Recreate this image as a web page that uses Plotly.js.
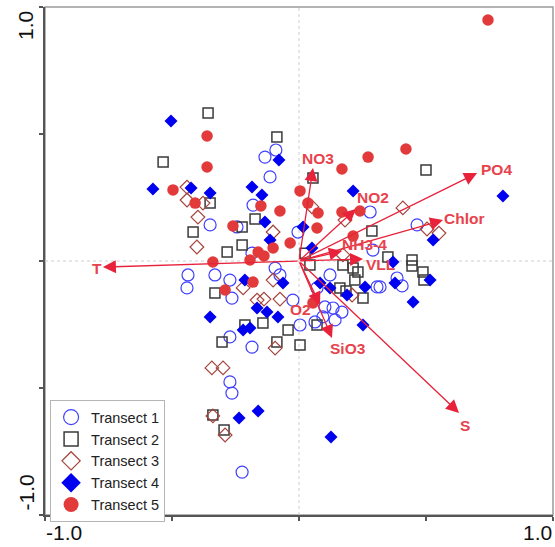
<!DOCTYPE html>
<html><head><meta charset="utf-8">
<script src="https://cdn.plot.ly/plotly-3.0.1.min.js"></script>
<style>html,body{margin:0;padding:0;background:#fff}#chart{width:555px;height:547px}</style>
</head><body><div id="chart"></div>
<script>
// ---- data ----
const seriesNames = ['Transect 1','Transect 2','Transect 3','Transect 4','Transect 5'];
const t1X = [-0.114,-0.091,-0.134,-0.181,-0.244,-0.350,-0.004,0.280,-0.185,0.291,-0.094,-0.331,-0.272,-0.075,0.122,0.071,0.307,-0.264,-0.024,-0.272,-0.185,0.004,0.063,0.102,0.134,0.169,0.142,0.094,0.465,0.386,0.406,0.319,-0.437,-0.441,-0.272,-0.264,-0.224];
const t1Y = [0.331,0.437,0.409,0.220,0.134,0.142,0.114,0.193,0.031,0.043,-0.028,-0.055,-0.075,-0.055,-0.055,-0.106,-0.102,-0.146,-0.154,-0.299,-0.339,-0.252,-0.240,-0.181,-0.185,-0.201,-0.232,-0.220,0.142,-0.067,-0.098,-0.102,-0.055,-0.106,-0.476,-0.520,-0.831];
const t2X = [-0.358,-0.535,-0.087,0.055,0.500,-0.350,-0.417,-0.224,-0.173,0.287,-0.224,-0.283,0.024,0.043,0.173,0.213,0.232,0.220,0.161,0.185,0.252,-0.331,-0.142,-0.213,-0.303,-0.043,-0.087,0.004,0.071,0.350,0.445,0.445,0.488,0.492,-0.339,-0.295];
const t2Y = [0.583,0.390,0.488,0.327,0.358,0.228,0.114,0.134,0.165,0.118,0.063,0.035,0.031,-0.016,-0.016,-0.028,-0.043,-0.075,-0.106,-0.118,-0.146,-0.126,-0.244,-0.252,-0.319,-0.272,-0.319,-0.331,-0.252,0.016,0.004,-0.020,-0.043,-0.075,-0.606,-0.665];
const t3X = [-0.441,-0.441,-0.398,-0.402,-0.378,0.051,0.181,-0.102,0.173,-0.102,-0.220,-0.165,-0.138,-0.075,0.209,-0.094,0.409,0.504,0.551,-0.343,-0.299,-0.339,-0.291];
const t3Y = [0.291,0.240,0.173,0.055,0.228,0.213,0.161,0.114,0.024,-0.075,-0.106,-0.154,-0.150,-0.150,-0.134,-0.343,0.209,0.126,0.110,-0.421,-0.421,-0.610,-0.685];
const t4X = [-0.504,-0.575,-0.425,-0.079,-0.350,-0.185,-0.146,0.213,0.803,-0.134,0.016,-0.114,0.051,0.370,-0.213,-0.063,0.083,0.122,0.260,0.189,-0.165,-0.126,-0.083,-0.350,-0.220,-0.193,0.252,0.528,0.378,0.516,0.449,-0.236,-0.161,0.126];
const t4Y = [0.551,0.283,0.287,0.398,0.268,0.291,0.260,0.276,0.256,0.154,0.134,0.083,0.051,-0.004,-0.075,-0.087,-0.087,-0.106,-0.102,-0.134,-0.185,-0.201,-0.220,-0.220,-0.272,-0.264,-0.252,0.083,-0.087,-0.075,-0.161,-0.618,-0.591,-0.693];
const t5X = [0.744,-0.362,-0.362,-0.496,-0.409,0.004,0.169,0.272,0.421,0.035,-0.150,-0.075,0.075,0.169,0.240,-0.260,0.071,0.213,-0.035,-0.102,-0.161,-0.138,-0.339,-0.193,-0.291,-0.181,0.055];
const t5Y = [0.949,0.492,0.370,0.280,0.228,0.276,0.362,0.409,0.441,0.228,0.217,0.197,0.189,0.193,0.197,0.138,0.130,0.098,0.071,0.051,0.035,0.020,-0.004,0.004,-0.114,-0.083,-0.165];

const envNames = ['T','PO4','Chlor','NO3','NO2','NH3-4','VLL','O2','SiO3','S'];
const envX = [-0.772,0.701,0.567,0.055,0.224,0.169,0.252,0.083,0.130,0.630];
const envY = [-0.024,0.346,0.161,0.366,0.205,0.039,0.008,-0.173,-0.303,-0.598];

const axisTickVals = [-1, 1];
const axisTickText = ['-1.0', '1.0'];

// ---- styling ----
const FONT = 'Liberation Sans, Arial, sans-serif';
const RED = '#e8223a';
const LABEL_RED = '#e8424c';
const styles = [
  {symbol:'circle-open', size:12, color:'#4040ff', line:{color:'#4040ff', width:1.2}},
  {symbol:'square-open', size:10, color:'#3a3a3a', line:{color:'#3a3a3a', width:1.5}},
  {symbol:'diamond-open', size:10.5, color:'#a4443e', line:{color:'#a4443e', width:1.2}},
  {symbol:'diamond', size:10, color:'#0000f0'},
  {symbol:'circle', size:11.5, color:'#e23a3a'}
];
const legendSizes = [15, 14, 14, 15, 15];
// label offsets in pixels from arrow tip (dx right, dy down)
const labelOffsets = [[-6,1],[19,-4],[21,-2],[5,-10],[17,-11],[23,-7],[17,6],[-20,5],[16,11],[6,13]];

const xs = [t1X,t2X,t3X,t4X,t5X];
const ys = [t1Y,t2Y,t3Y,t4Y,t5Y];
const traces = seriesNames.map((n,i)=>({
  type:'scatter', mode:'markers', name:n, x:xs[i], y:ys[i],
  marker:styles[i], hoverinfo:'skip', showlegend:false
}));
// legend entries (larger glyphs, as in the reference key)
seriesNames.forEach((n,i)=>{
  traces.push({type:'scatter', mode:'markers', name:n, x:[null], y:[null],
    marker:Object.assign({}, styles[i], {size:legendSizes[i]}), showlegend:true, hoverinfo:'skip'});
});

const annotations = [];
envNames.forEach((n,i)=>{
  annotations.push({x:envX[i], y:envY[i], ax:0, ay:0, xref:'x', yref:'y', axref:'x', ayref:'y',
    showarrow:true, arrowhead:2, arrowsize:2, arrowwidth:1.3, arrowcolor:RED, standoff:0, text:''});
});
envNames.forEach((n,i)=>{
  annotations.push({x:envX[i], y:envY[i], xref:'x', yref:'y', text:n, showarrow:false,
    xshift:labelOffsets[i][0], yshift:-labelOffsets[i][1], xanchor:'center', yanchor:'middle',
    font:{family:FONT, size:15.5, color:LABEL_RED, weight:'bold'}});
});
// axis end labels (inset toward the plot like the reference)
annotations.push({x:axisTickVals[0], y:0, xref:'x', yref:'paper', yanchor:'top', xanchor:'left', yshift:-4, xshift:-1,
  text:axisTickText[0], showarrow:false, font:{family:FONT, size:21, color:'#111'}});
annotations.push({x:axisTickVals[1], y:0, xref:'x', yref:'paper', yanchor:'top', xanchor:'right', yshift:-4, xshift:1,
  text:axisTickText[1], showarrow:false, font:{family:FONT, size:21, color:'#111'}});
annotations.push({x:0, y:axisTickVals[1], xref:'paper', yref:'y', xanchor:'right', yanchor:'top', xshift:-6, yshift:-2,
  text:axisTickText[1], textangle:-90, showarrow:false, font:{family:FONT, size:21, color:'#111'}});
annotations.push({x:0, y:axisTickVals[0], xref:'paper', yref:'y', xanchor:'right', yanchor:'bottom', xshift:-6, yshift:2,
  text:axisTickText[0], textangle:-90, showarrow:false, font:{family:FONT, size:21, color:'#111'}});

const layout = {
  width:555, height:547,
  margin:{l:45, r:2, t:7, b:32},
  paper_bgcolor:'#fff', plot_bgcolor:'#fff',
  font:{family:FONT},
  showlegend:true,
  legend:{x:0.01, y:0.226, xanchor:'left', yanchor:'top', bgcolor:'#fff', bordercolor:'#b5b5b5', borderwidth:1,
    font:{family:FONT, size:14.5, color:'#222'}, tracegroupgap:0, itemwidth:30},
  xaxis:{range:[-1,1], showgrid:false, zeroline:false, showline:true, linecolor:'#555', linewidth:2,
    ticks:'outside', ticklen:4, tickwidth:1.5, tickcolor:'#555', dtick:0.5, tick0:0, showticklabels:false, fixedrange:true},
  yaxis:{range:[-1,1], showgrid:false, zeroline:false, showline:true, linecolor:'#555', linewidth:2,
    ticks:'outside', ticklen:4, tickwidth:1.5, tickcolor:'#555', dtick:0.5, tick0:0, showticklabels:false, fixedrange:true},
  shapes:[
    {type:'rect', xref:'paper', yref:'paper', x0:0, x1:1, y0:0, y1:1, line:{color:'#9a9a9a', width:1.5}, layer:'below'},
    {type:'line', xref:'x', yref:'paper', x0:0, x1:0, y0:0, y1:1, line:{color:'#cfcfcf', width:1, dash:'dot'}, layer:'below'},
    {type:'line', xref:'paper', yref:'y', x0:0, x1:1, y0:0, y1:0, line:{color:'#cfcfcf', width:1, dash:'dot'}, layer:'below'}
  ],
  annotations:annotations
};
Plotly.newPlot('chart', traces, layout, {staticPlot:true, displayModeBar:false});
</script>
</body></html>
